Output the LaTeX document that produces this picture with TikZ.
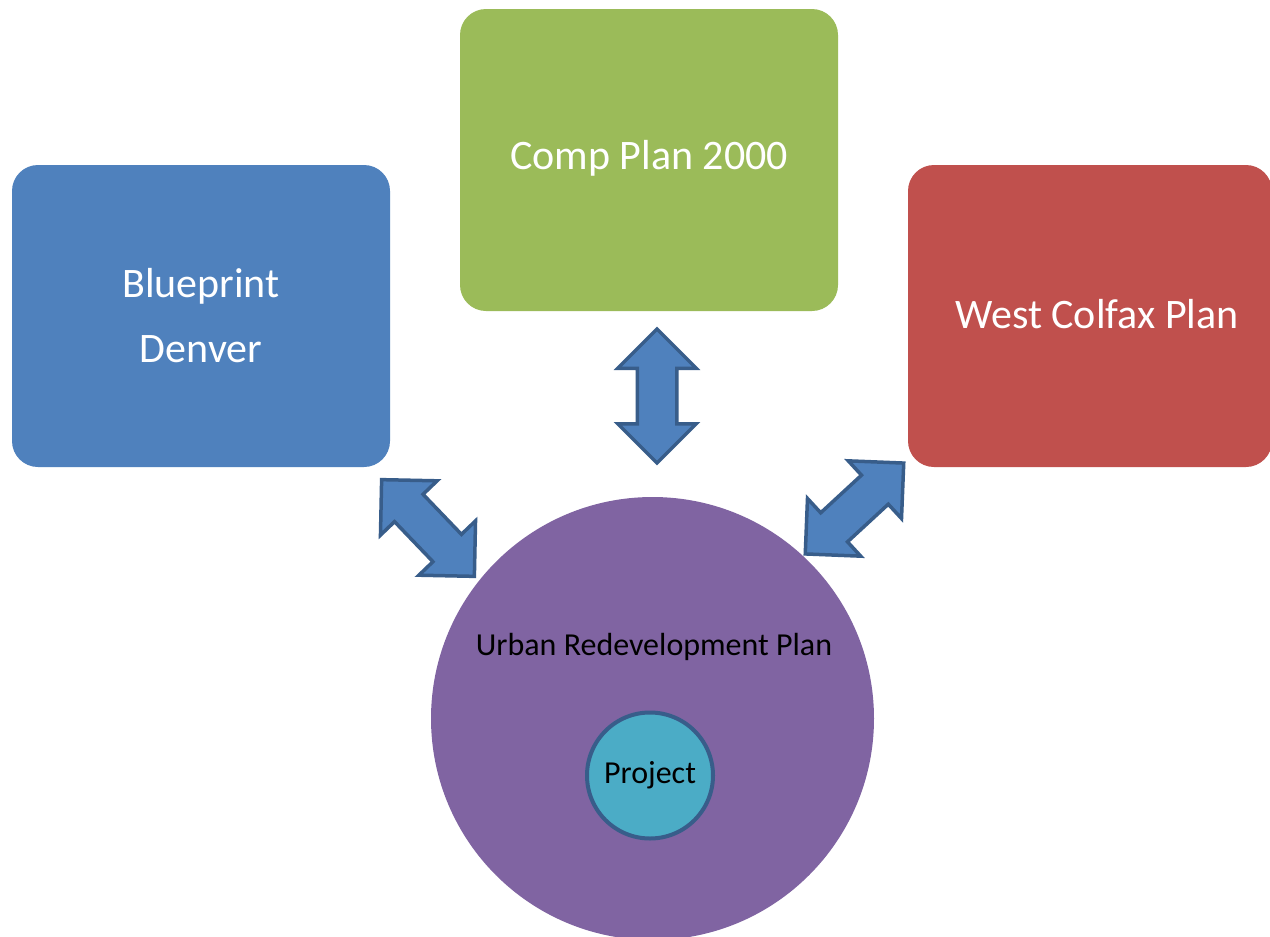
\documentclass[tikz,border=0pt]{standalone}
\usepackage{fontspec}
\setmainfont{Carlito}
\usetikzlibrary{shapes.arrows}
\definecolor{cblue}{HTML}{4F81BD}
\definecolor{cgreen}{HTML}{9BBB59}
\definecolor{cred}{HTML}{C0504D}
\definecolor{cpurple}{HTML}{8064A2}
\definecolor{caqua}{HTML}{4BACC6}
\definecolor{cline}{HTML}{385D8A}
\tikzset{
  planbox/.style={rectangle, rounded corners=26pt, minimum width=378pt, minimum height=302pt, inner sep=0pt},
  bigtext/.style={text=white, font=\fontsize{42}{65}\selectfont, align=center},
  smalltext/.style={font=\fontsize{32}{38}\selectfont},
  blockarrow/.style={double arrow, double arrow tip angle=90, double arrow head extend=19.5pt,
    minimum height=134pt, inner xsep=0pt, inner ysep=18pt, fill=cblue, draw=cline, line width=3.5pt, line join=miter},
}
\begin{document}
\begin{tikzpicture}[x=1pt,y=-1pt]
\useasboundingbox (0,0) rectangle (1270,937);
\clip (0,0) rectangle (1270,937);
\fill[white] (0,0) rectangle (1270,937);
% boxes
\node[planbox, fill=cblue] (bp) at (201,316) {};
\node[planbox, fill=cgreen] (cp) at (649,160) {};
\node[planbox, fill=cred, minimum width=364pt] (wc) at (1090,316) {};
\node[bigtext] (bpt) at (201,315.5) {Blueprint\\Denver};
\node[bigtext] (cpt) at (649,158) {Comp Plan 2000};
\node[bigtext] (wct) at (1097,314) {West Colfax Plan};
% circles
\node[circle, fill=cpurple, minimum size=443pt, inner sep=0pt] (urp) at (652.5,718.5) {};
\node[smalltext] (urpt) at (654,647) {Urban Redevelopment Plan};
\node[circle, fill=caqua, draw=cline, line width=4pt, minimum size=126pt, inner sep=0pt, smalltext] (proj) at (650,775.5) {Project};
% block arrows
\node[blockarrow, rotate=90] (a2) at (657,396) {};
\node[blockarrow, rotate=-46.2] (a1) at (428,528) {};
\node[blockarrow, rotate=42.7] (a3) at (854.5,508.5) {};
\end{tikzpicture}
\end{document}
